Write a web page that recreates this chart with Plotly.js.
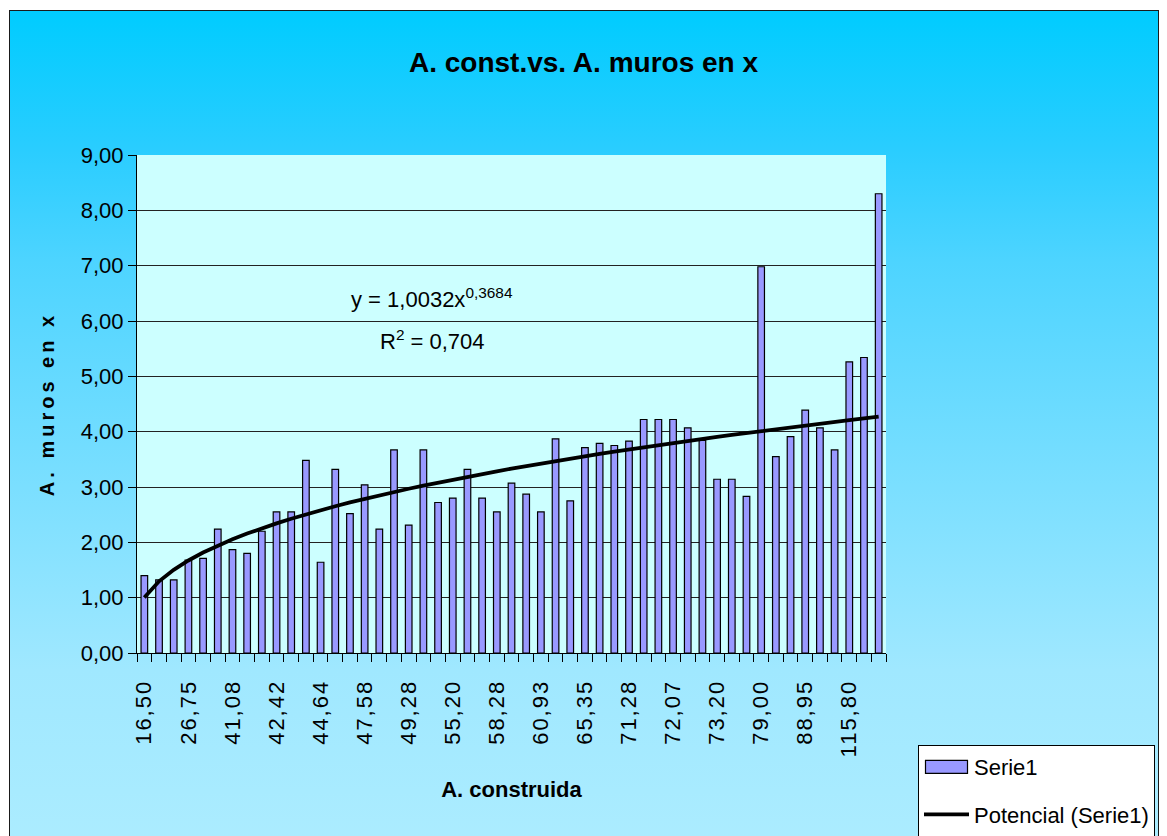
<!DOCTYPE html>
<html>
<head>
<meta charset="utf-8">
<script src="https://cdn.plot.ly/plotly-3.0.1.min.js"></script>
<style>
  html, body { margin: 0; padding: 0; background: #ffffff; overflow: hidden; }
  #bg {
    position: absolute; left: 10px; top: 11px; width: 1148px; height: 900px;
    background: linear-gradient(to bottom, #00CCFF 0px, #2ACDFF 140px, #4DD4FF 250px, #A0E8FF 660px, #B0EEFF 900px);
  }
  #frame {
    position: absolute; left: 9px; top: 10px; width: 1148px; height: 900px;
    border: 1px solid #1a1a1a; pointer-events: none;
  }
  #chart { position: absolute; left: 0; top: 0; width: 1167px; height: 836px; }
  .ytitle { letter-spacing: 4px; }
  .xtick text { letter-spacing: 2px; }
</style>
</head>
<body>
<div id="bg"></div>
<div id="chart"></div>
<div id="frame"></div>
<script>
// Built area (every third category is labelled on the axis)
const areaLabels = ['16,50', '26,75', '41,08', '42,42', '44,64', '47,58', '49,28', '55,20', '58,28',
                    '60,93', '65,35', '71,28', '72,07', '73,20', '79,00', '88,95', '115,80'];
const labelStep = 3;

// Wall area in x direction, one value per building
const wallArea = [
  1.40, 1.32, 1.32, 1.68, 1.71, 2.24, 1.87, 1.80, 2.20, 2.55,
  2.55, 3.48, 1.64, 3.32, 2.52, 3.04, 2.24, 3.67, 2.31, 3.67,
  2.72, 2.80, 3.32, 2.80, 2.55, 3.07, 2.87, 2.55, 3.87, 2.75,
  3.71, 3.79, 3.75, 3.83, 4.22, 4.22, 4.22, 4.07, 3.84, 3.14,
  3.14, 2.83, 6.98, 3.55, 3.91, 4.39, 4.07, 3.67, 5.26, 5.34,
  8.30
];

// Power trendline y = a * x^b (x = 1-based category number)
const trendA = 1.0032;
const trendB = 0.3684;
const trendR2 = 0.704;

const comma = (v, d) => v.toFixed(d).replace('.', ',');

const idx = wallArea.map((_, i) => i);
const trendY = idx.map(i => trendA * Math.pow(i + 1, trendB));
const labelPos = areaLabels.map((_, k) => k * labelStep);
const boundaries = idx.map(i => i - 0.5).concat([wallArea.length - 0.5]);

const FONT = 'Liberation Sans, Arial, sans-serif';

const bars = {
  type: 'bar',
  name: 'Serie1',
  x: idx,
  y: wallArea,
  width: 0.45,
  marker: { color: '#9999FF', line: { color: '#000000', width: 1.2 } },
  legendgroup: 'a',
  hoverinfo: 'y'
};

const trend = {
  type: 'scatter',
  mode: 'lines',
  name: 'Potencial (Serie1)',
  x: idx,
  y: trendY,
  line: { color: '#000000', width: 3.8 },
  legendgroup: 'b',
  hoverinfo: 'skip'
};

const layout = {
  width: 1167,
  height: 836,
  margin: { l: 137, r: 281, t: 155, b: 183, autoexpand: false },
  paper_bgcolor: 'rgba(0,0,0,0)',
  plot_bgcolor: '#CCFFFF',
  separators: ', ',
  font: { family: FONT, color: '#000000', size: 22 },
  title: {
    text: '<b>A. const.vs. A. muros en x</b>',
    font: { family: FONT, size: 28, color: '#000000' },
    xref: 'container', x: 0.5, xanchor: 'center',
    yref: 'container', y: 1 - 62 / 836, yanchor: 'middle'
  },
  bargap: 0,
  xaxis: {
    automargin: false,
    range: [-0.5, wallArea.length - 0.5],
    tickmode: 'array',
    tickvals: labelPos,
    ticktext: areaLabels,
    tickangle: -90,
    ticks: '',
    ticklabelstandoff: 17,
    tickfont: { family: FONT, size: 22, color: '#000000' },
    showgrid: false,
    zeroline: false,
    showline: true,
    linecolor: '#000000',
    linewidth: 1,
    minor: {
      tickmode: 'array',
      tickvals: boundaries,
      ticks: 'outside',
      ticklen: 8,
      tickwidth: 1,
      tickcolor: '#000000',
      showgrid: false
    },
    title: {
      text: '<b>A. construida</b>',
      font: { family: FONT, size: 22, color: '#000000' },
      standoff: 25
    },
    fixedrange: true
  },
  yaxis: {
    automargin: false,
    range: [0, 9],
    tick0: 0,
    dtick: 1,
    tickformat: '.2f',
    ticks: 'outside',
    ticklen: 8,
    tickcolor: '#000000',
    tickfont: { family: FONT, size: 22, color: '#000000' },
    showgrid: true,
    gridcolor: '#222222',
    gridwidth: 1,
    zeroline: false,
    showline: true,
    linecolor: '#000000',
    linewidth: 1,
    title: {
      text: '<b>A. muros en x</b>',
      font: { family: FONT, size: 20, color: '#000000' },
      standoff: 20
    },
    fixedrange: true
  },
  showlegend: true,
  legend: {
    x: (918 - 137) / 749,
    xanchor: 'left',
    y: (653 - 745) / 498,
    yanchor: 'top',
    bgcolor: '#FFFFFF',
    bordercolor: '#000000',
    borderwidth: 1,
    font: { family: FONT, size: 22, color: '#000000' },
    traceorder: 'grouped',
    tracegroupgap: 16,
    itemwidth: 45
  },
  annotations: [
    {
      xref: 'paper', yref: 'paper',
      x: (432 - 137) / 749, y: (653 - 298) / 498,
      xanchor: 'center', yanchor: 'middle',
      showarrow: false,
      text: 'y = ' + comma(trendA, 4) + 'x<sup>' + comma(trendB, 4) + '</sup>',
      font: { family: FONT, size: 22, color: '#000000' }
    },
    {
      xref: 'paper', yref: 'paper',
      x: (432 - 137) / 749, y: (653 - 340) / 498,
      xanchor: 'center', yanchor: 'middle',
      showarrow: false,
      text: 'R<sup>2</sup> = ' + comma(trendR2, 3),
      font: { family: FONT, size: 22, color: '#000000' }
    }
  ]
};

Plotly.newPlot('chart', [bars, trend], layout, { displayModeBar: false, staticPlot: true })
  .then(gd => {
    // widen the bar swatch in the legend into a flat rectangle
    gd.querySelectorAll('.legend .legendpoints path').forEach(p => {
      const d = p.getAttribute('d') || '';
      if (/^M6,6H-6V-6H6Z$/.test(d.replace(/\s/g, ''))) {
        p.setAttribute('d', 'M21,6.5H-21V-6.5H21Z');
      }
    });
  });
</script>
</body>
</html>
